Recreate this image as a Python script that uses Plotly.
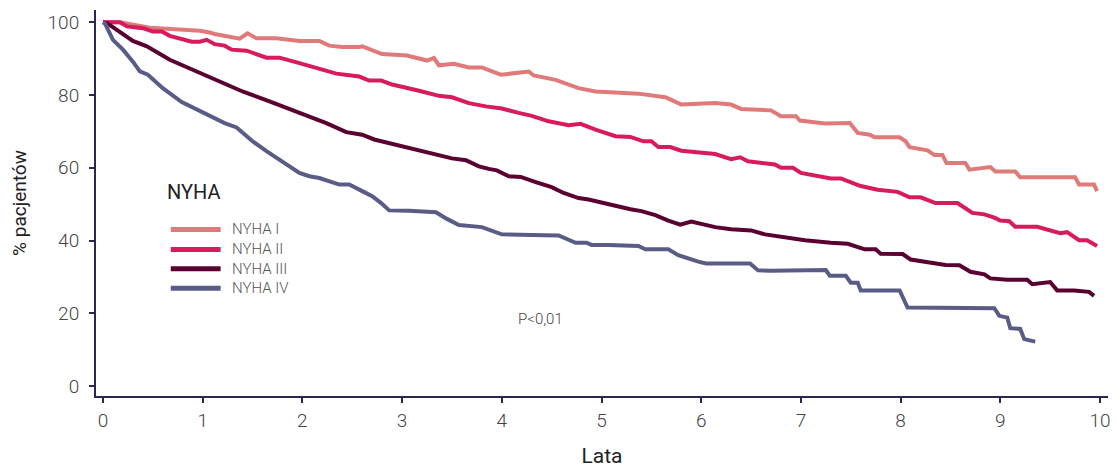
import plotly.graph_objects as go

# NYHA I
x1 = [0, 0.17, 0.47, 0.97, 1.07, 1.12, 1.37, 1.45, 1.54, 1.74, 1.97, 2.17, 2.27, 2.40, 2.57,
      2.60, 2.80, 3.05, 3.25, 3.32, 3.37, 3.52, 3.67, 3.80, 3.99, 4.27, 4.32, 4.54, 4.77, 4.94,
      5.37, 5.64, 5.70, 5.80, 6.14, 6.30, 6.40, 6.70, 6.80, 6.95, 6.99, 7.24, 7.49, 7.57, 7.69,
      7.74, 7.99, 8.05, 8.09, 8.27, 8.34, 8.42, 8.46, 8.65, 8.69, 8.90, 8.95, 9.15, 9.20, 9.75,
      9.79, 9.94, 9.97]
y1 = [100, 100, 98.5, 97.7, 97.2, 96.8, 95.5, 97.0, 95.6, 95.6, 94.9, 94.9, 93.6, 93.2, 93.2,
      93.4, 91.3, 90.9, 89.5, 90.2, 88.2, 88.6, 87.6, 87.6, 85.6, 86.5, 85.4, 84.2, 81.9, 81.0,
      80.4, 79.4, 78.7, 77.4, 77.8, 77.4, 76.2, 75.8, 74.2, 74.2, 73.0, 72.2, 72.3, 69.6, 69.1,
      68.4, 68.4, 67.3, 65.7, 64.8, 63.5, 63.5, 61.3, 61.3, 59.5, 60.2, 59.0, 59.0, 57.4, 57.4,
      55.4, 55.4, 53.6]

# NYHA II
x2 = [0, 0.17, 0.24, 0.40, 0.50, 0.59, 0.67, 0.77, 0.89, 0.97, 1.04, 1.12, 1.22, 1.29, 1.44,
      1.64, 1.77, 1.97, 2.17, 2.34, 2.57, 2.67, 2.79, 2.90, 3.17, 3.37, 3.50, 3.67, 3.84, 4.00,
      4.17, 4.30, 4.47, 4.67, 4.79, 4.94, 5.14, 5.29, 5.42, 5.50, 5.57, 5.69, 5.80, 6.14, 6.30,
      6.39, 6.47, 6.74, 6.80, 6.92, 7.00, 7.17, 7.30, 7.40, 7.60, 7.77, 7.97, 8.09, 8.20, 8.35,
      8.57, 8.72, 8.84, 8.94, 9.00, 9.09, 9.15, 9.37, 9.47, 9.60, 9.67, 9.79, 9.87, 9.97]
y2 = [100, 100, 98.9, 98.4, 97.5, 97.5, 96.3, 95.7, 94.7, 94.7, 95.2, 94.0, 93.6, 92.5, 92.2,
      90.3, 90.3, 88.8, 87.2, 85.9, 85.1, 84.0, 84.0, 82.9, 81.2, 79.8, 79.4, 77.8, 76.9, 76.3,
      75.1, 74.3, 72.8, 71.7, 72.1, 70.5, 68.7, 68.5, 67.3, 67.3, 65.7, 65.7, 64.7, 63.8, 62.4,
      62.9, 61.8, 60.9, 60.0, 60.0, 58.6, 57.7, 57.1, 57.1, 55.0, 54.0, 53.4, 51.9, 51.9, 50.3,
      50.3, 47.6, 47.2, 46.3, 45.5, 45.3, 43.8, 43.8, 43.1, 42.0, 42.3, 40.1, 40.1, 38.5]

# NYHA III
x3 = [0, 0.04, 0.30, 0.44, 0.67, 0.90, 1.15, 1.40, 1.67, 1.97, 2.24, 2.44, 2.60, 2.72, 3.04,
      3.30, 3.50, 3.64, 3.77, 3.87, 3.95, 4.07, 4.19, 4.34, 4.50, 4.62, 4.77, 4.87, 5.14, 5.29,
      5.40, 5.54, 5.67, 5.79, 5.90, 6.14, 6.30, 6.50, 6.64, 6.84, 7.04, 7.30, 7.47, 7.64, 7.75,
      7.80, 8.02, 8.10, 8.37, 8.45, 8.59, 8.70, 8.84, 8.90, 9.07, 9.27, 9.32, 9.50, 9.57, 9.74,
      9.89, 9.94]
y3 = [100, 99.8, 94.9, 93.4, 89.7, 87.0, 83.8, 81.0, 78.3, 75.1, 72.3, 69.8, 69.1, 67.8, 65.7,
      63.8, 62.6, 62.1, 60.4, 59.7, 59.3, 57.7, 57.5, 56.1, 54.7, 53.1, 51.7, 51.3, 49.5, 48.6,
      48.1, 47.0, 45.5, 44.4, 45.2, 43.7, 43.1, 42.8, 41.7, 40.8, 40.1, 39.4, 39.1, 37.6, 37.6,
      36.4, 36.3, 34.8, 33.6, 33.3, 33.2, 31.4, 30.7, 29.6, 29.2, 29.2, 28.0, 28.6, 26.3, 26.3,
      25.9, 24.8]

# NYHA IV
x4 = [0, 0.02, 0.10, 0.20, 0.30, 0.37, 0.45, 0.60, 0.79, 0.97, 1.10, 1.22, 1.34, 1.50, 1.64,
      1.84, 1.97, 2.07, 2.17, 2.37, 2.47, 2.60, 2.70, 2.79, 2.87, 3.07, 3.34, 3.44, 3.57, 3.80,
      4.00, 4.30, 4.57, 4.74, 4.85, 4.90, 5.07, 5.37, 5.44, 5.67, 5.77, 5.97, 6.05, 6.49, 6.57,
      6.70, 7.25, 7.29, 7.45, 7.50, 7.57, 7.60, 7.99, 8.07, 8.47, 8.94, 8.99, 9.07, 9.10, 9.20,
      9.24, 9.35]
y4 = [100, 99.7, 95.2, 92.5, 89.2, 86.5, 85.6, 81.9, 78.1, 75.7, 74.2, 72.3, 71.1, 67.3, 64.6,
      60.9, 58.6, 57.7, 57.2, 55.4, 55.4, 53.6, 52.2, 50.3, 48.3, 48.2, 47.8, 46.1, 44.3, 43.7,
      41.7, 41.5, 41.4, 39.4, 39.4, 38.8, 38.8, 38.5, 37.6, 37.6, 36.0, 34.2, 33.7, 33.7, 31.8,
      31.7, 31.9, 30.3, 30.3, 28.4, 28.4, 26.3, 26.3, 21.6, 21.4, 21.4, 19.3, 18.8, 15.9, 15.7,
      12.9, 12.2]

series_names = ["NYHA I", "NYHA II", "NYHA III", "NYHA IV"]
series_colors = ["#e07a7a", "#d81b5b", "#5a0030", "#5a5c86"]
legend_title = "NYHA"
p_text = "P<0,01"
xs = [x1, x2, x3, x4]
ys = [y1, y2, y3, y4]

x_ticks = list(range(0, 11))
y_ticks = [0, 20, 40, 60, 80, 100]

fig = go.Figure()
for name, color, xv, yv in zip(series_names, series_colors, xs, ys):
    fig.add_trace(go.Scatter(x=xv, y=yv, mode="lines", name=name,
                             line=dict(color=color, width=4), showlegend=False))

axis_color = "#2b2850"
tick_font = dict(family="Roboto", size=19, color="#444444", weight=300)

W, H = 1117, 470
ML, MR, MT, MB = 96, 6, 10, 73
plot_w = W - ML - MR
plot_h = H - MT - MB


def px_to_paper(px, py):
    return (px - ML) / plot_w, 1 - (py - MT) / plot_h


shapes = []
annotations = []
tx, ty = px_to_paper(165, 192)
annotations.append(dict(x=tx, y=ty, xref="paper", yref="paper", xanchor="left", yanchor="middle",
                        text=legend_title, showarrow=False,
                        font=dict(family="Roboto", size=20, color="#222222")))
item_y = [230, 250, 269.5, 289]
for name, color, iy in zip(series_names, series_colors, item_y):
    x0, y0 = px_to_paper(171, iy)
    x1p, _ = px_to_paper(221, iy)
    shapes.append(dict(type="line", xref="paper", yref="paper", x0=x0, x1=x1p, y0=y0, y1=y0,
                       line=dict(color=color, width=5)))
    lx, _ = px_to_paper(230, iy)
    annotations.append(dict(x=lx, y=y0, xref="paper", yref="paper", xanchor="left",
                            yanchor="middle", text=name, showarrow=False,
                            font=dict(family="Roboto", size=15, color="#555555", weight=300)))

annotations.append(dict(x=4.39, y=18.4, xref="x", yref="y", text=p_text, showarrow=False,
                        font=dict(family="Roboto", size=15, color="#444444", weight=300)))

fig.update_layout(
    width=W, height=H,
    margin=dict(l=ML, r=MR, t=MT, b=MB),
    paper_bgcolor="white", plot_bgcolor="white",
    showlegend=False,
    xaxis=dict(
        range=[-0.07, 10.08], tickvals=x_ticks, showgrid=False, zeroline=False,
        showline=True, linecolor=axis_color, linewidth=2,
        ticks="outside", ticklen=5, tickwidth=2, tickcolor=axis_color,
        tickfont=tick_font, ticklabelstandoff=1,
        title=dict(text="Lata", font=dict(family="Roboto", size=21, color="#222222"), standoff=18),
    ),
    yaxis=dict(
        range=[-2.74, 103.4], tickvals=y_ticks, showgrid=False, zeroline=False,
        showline=True, linecolor=axis_color, linewidth=2,
        ticks="outside", ticklen=5, tickwidth=2, tickcolor=axis_color,
        tickfont=tick_font, ticklabelstandoff=6,
        title=dict(text="% pacjentów", font=dict(family="Roboto", size=19, color="#222222"), standoff=16),
    ),
    shapes=shapes,
    annotations=annotations,
)

fig.write_html(
    "out.html",
    config={"displayModeBar": False},
    post_script="document.body.style.margin='0';document.documentElement.style.overflow='hidden';",
)
